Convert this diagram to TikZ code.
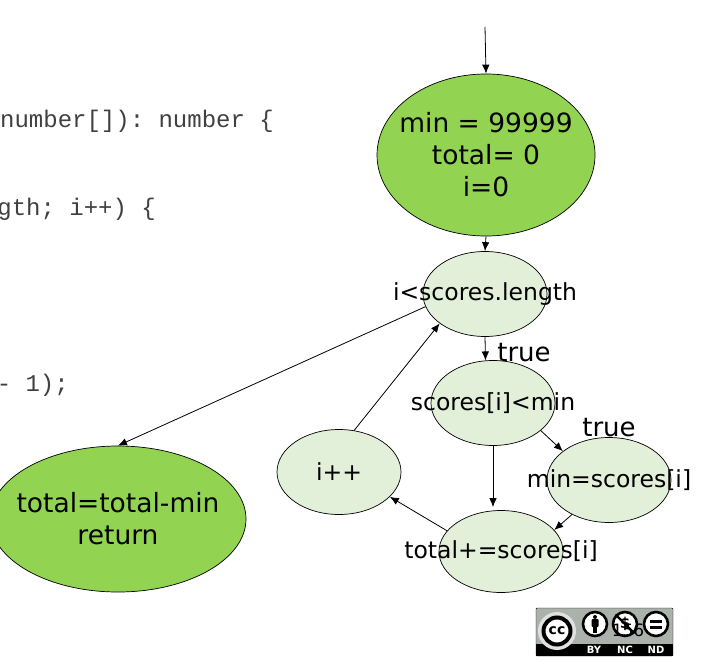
\documentclass[tikz,border=0pt]{standalone}
\usepackage{fontspec}
\setmainfont{DejaVu Sans}
\setmonofont{Liberation Mono}
\usepackage{xcolor}
\usetikzlibrary{shapes.geometric,arrows.meta}
\definecolor{startgreen}{RGB}{146,211,82}
\definecolor{palegreen}{RGB}{226,239,217}
\definecolor{badgegray}{RGB}{170,178,171}
\newcommand{\nowidth}[1]{\makebox[0pt]{#1}}
\tikzset{
  blockbig/.style={draw,line width=0.7pt,ellipse,inner sep=0pt,fill=startgreen,align=center,font=\fontsize{26.5}{32}\selectfont},
  block/.style={draw,line width=0.7pt,ellipse,inner sep=0pt,fill=palegreen,minimum width=124pt,minimum height=85pt,font=\fontsize{23.5}{28}\selectfont},
  flow/.style={-{Latex[length=9pt,width=7.5pt]},line width=0.8pt},
  codeline/.style={anchor=east,inner sep=0pt,text=black!75,font=\ttfamily\fontsize{24}{24}\selectfont},
  truelabel/.style={inner sep=0pt,font=\fontsize{26}{30}\selectfont},
  ccicon/.style={draw=black,line width=2.6pt,fill=white,circle,inner sep=0pt,minimum size=24pt},
  cctag/.style={inner sep=0pt,text=white,font=\bfseries\fontsize{10}{10}\selectfont}
}
\begin{document}
\begin{tikzpicture}[x=1pt,y=-1pt]
    \path[use as bounding box,clip] (0,0) rectangle (703,660);
    % code behind the graph
    \node[codeline] (code1) at (274,121) {number[]): number \{};
    \node[codeline] (code2) at (156,209) {gth; i++) \{};
    \node[codeline] (code3) at (69,385) {- 1);};
    % graph
    \coordinate (entry) at (485,27);
    \node[blockbig,minimum width=218pt,minimum height=162pt] (init) at (486,155) {\nowidth{min = 99999}\\\nowidth{total= 0}\\\nowidth{i=0}};
    \node[block] (cond) at (485,294) {\nowidth{i<scores.length}};
    \node[block] (body) at (493,403) {\nowidth{scores[i]<min}};
    \node[block] (setmin) at (609,480) {\nowidth{min=scores[i]}};
    \node[block,minimum height=82pt] (addtotal) at (501,551.5) {\nowidth{total+=scores[i]}};
    \node[block] (incr) at (339,472) {\nowidth{i++}};
    \node[blockbig,minimum width=256pt,minimum height=146pt] (result) at (118,519) {\nowidth{total=total-min}\\\nowidth{return}};
    \node[truelabel] (true1) at (524,353) {true};
    \node[truelabel] (true2) at (609,428) {true};
    \draw[flow] (entry) -- (init.north);
    \draw[flow] (init.south) -- (cond.north);
    \draw[flow] (cond.south) -- (body.100);
    \draw[flow] (body.-30) -- (setmin.148);
    \draw[flow,shorten >=3pt] (body.south) -- (body.south |- addtotal.north);
    \draw[flow] (setmin.223) -- (addtotal.22);
    \draw[flow] (addtotal.159) -- (incr.-26);
    \draw[flow] (incr.70) -- (cond.213);
    \draw[flow] (cond.192) -- (result.north);
    % licence badge
    \draw[fill=badgegray,rounded corners=1pt] (536,608) rectangle (673,656);
    \fill[black] (536,644) rectangle (673,656);
    \node[circle,fill=black!12,inner sep=0pt,minimum size=38pt] (ccring) at (557,631) {};
    \node[draw=black,line width=4pt,circle,fill=white,inner sep=0pt,minimum size=27pt,font=\bfseries\fontsize{14}{14}\selectfont] (cc) at (557,631) {cc};
    \node[ccicon] (by) at (595,624) {};
    \fill (by.center) ++(0,-7) circle (2);
    \fill[rounded corners=1pt] (591.5,619) rectangle (598.5,627);
    \fill (593,625) rectangle (597,633);
    \node[ccicon,font=\bfseries\fontsize{15}{15}\selectfont] (nc) at (625,624) {\$};
    \draw[line width=2.4pt] (nc.135) -- (nc.-45);
    \node[ccicon] (nd) at (656,624) {};
    \fill (650,619.5) rectangle (662,622.5);
    \fill (650,625.5) rectangle (662,628.5);
    \node[cctag] (bytag) at (594,650) {BY};
    \node[cctag] (nctag) at (625,650) {NC};
    \node[cctag] (ndtag) at (656,650) {ND};
    \node[inner sep=0pt,font=\fontsize{17}{17}\selectfont] (pagenum) at (628,630) {156};
\end{tikzpicture}
\end{document}
